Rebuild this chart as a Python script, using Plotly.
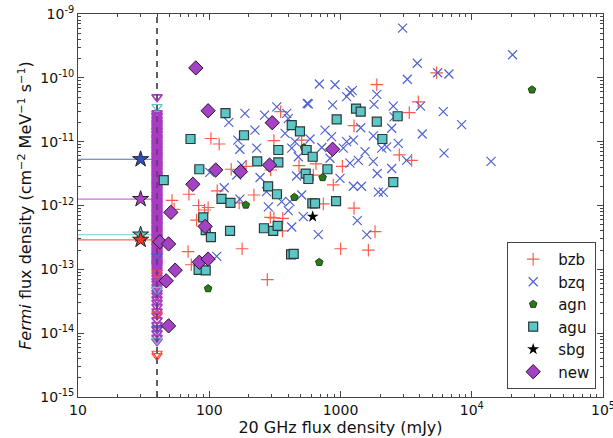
import plotly.graph_objects as go

# ---------------- data (20 GHz flux in mJy, Fermi flux density) ----------------
bzb_x = [350, 103, 119, 311, 506, 147, 191, 483, 294, 115, 70, 219, 169, 52, 83, 98,
         92, 80, 69, 73, 178, 277, 292, 311, 363, 361, 54,
         1890, 3915, 3342, 1268, 2806, 3483, 1033, 881, 650, 621, 740, 1268, 5400,
         1832, 1003, 1630]
bzb_y = [2.95e-11, 1.12e-11, 9.2e-12, 1.04e-11, 1.06e-11, 3.7e-12, 4.1e-12, 4.2e-12, 3.6e-12,
         1.7e-12, 1.5e-12, 1.46e-12, 1.1e-12, 1.2e-12, 1.0e-12, 9.3e-13,
         8.5e-13, 5.9e-13, 1.9e-13, 1.18e-13, 2.1e-13, 6.9e-14, 6.5e-13, 6.4e-13, 6.3e-13, 4.0e-13, 8.7e-13,
         7.8e-11, 4.2e-11, 2.85e-11, 1.78e-11, 6.2e-12, 5.1e-12, 4.1e-12, 2.1e-12, 4.5e-12, 3.0e-12,
         1.06e-12, 9.1e-13, 1.2e-10,
         3.9e-13, 2.1e-13, 2.0e-13]

bzq_x = [327, 558, 187, 141, 264, 389, 400, 223, 378, 165, 171, 230, 450, 425, 477, 586,
         177, 162, 101, 244, 463, 130, 273, 171, 356, 412, 282,
         114, 400, 521, 425,
         3846, 3228, 5500, 6700, 689, 908, 1890, 1180, 1114, 1230, 569, 871, 1800, 2524, 4074,
         6065, 2559, 1425, 2455, 4195, 762, 855, 1778, 1253, 1114, 2754, 2060, 2250, 720, 1050,
         1538, 1368, 1180, 832, 1778, 3190, 6150, 2455, 1905, 991, 1253, 1445, 1942, 2118, 506,
         1343, 677, 1585,
         20460, 8375, 14030, 2972]
bzq_y = [3.5e-11, 3.96e-11, 2.78e-11, 2.0e-11, 2.6e-11, 2.78e-11, 2.3e-11, 1.52e-11, 1.35e-11,
         1.06e-11, 7.6e-12, 7.9e-12, 1.0e-11, 7.9e-12, 5.8e-12, 1.1e-11,
         4.3e-12, 3.0e-12, 3.3e-12, 2.75e-12, 2.9e-12, 1.9e-12, 1.65e-12, 1.26e-12, 1.15e-12,
         1.15e-12, 9.5e-13,
         1.6e-13, 8.3e-13, 6.7e-13, 4.6e-13,
         1.69e-10, 9.5e-11, 1.2e-10, 1.15e-10, 8.0e-11, 7.8e-11, 5.5e-11, 5.9e-11, 5.07e-11, 6.3e-11,
         3.9e-11, 3.76e-11, 3.84e-11, 3.6e-11, 3.6e-11,
         2.95e-11, 2.45e-11, 1.65e-11, 1.62e-11, 1.32e-11, 1.52e-11, 1.2e-11, 1.23e-11, 1.06e-11,
         1.0e-11, 9.4e-12, 7.9e-12, 8.3e-12, 8.1e-12, 7.9e-12,
         7.0e-12, 5.1e-12, 4.6e-12, 5.5e-12, 4.9e-12, 5.1e-12, 6.6e-12, 3.8e-12, 3.17e-12, 2.66e-12,
         2.0e-12, 2.0e-12, 1.62e-12, 1.62e-12, 1.46e-12,
         5.8e-13, 3.5e-13, 3.5e-13,
         2.3e-10, 1.85e-11, 4.9e-12, 6.0e-10]

agn_x = [190, 445, 527, 731, 98, 689, 28770]
agn_y = [1.02e-12, 1.35e-12, 8.1e-12, 2.75e-12, 5.0e-14, 1.29e-13, 6.5e-11]

agu_x = [133, 72, 84, 45, 184, 336, 232, 336, 425, 491, 552, 543, 281, 328, 124, 145,
         90, 94, 103, 144, 261, 307, 332, 420, 440, 83, 94,
         1313, 1425, 935, 1890, 2725, 2084, 614, 795, 569, 2524, 610, 640, 925]
agu_y = [2.8e-11, 1.1e-11, 3.7e-12, 2.5e-12, 1.26e-11, 7.4e-12, 4.9e-12, 4.75e-12, 1.82e-11,
         1.45e-11, 7.4e-12, 3.16e-12, 2.0e-12, 1.5e-12, 1.27e-12, 1.1e-12,
         6.5e-13, 4.1e-13, 3.2e-13, 4.0e-13, 4.4e-13, 4.0e-13, 4.8e-13, 1.72e-13, 1.75e-13,
         9.8e-14, 9.6e-14,
         3.3e-11, 2.95e-11, 2.24e-11, 2.06e-11, 2.5e-11, 1.1e-11, 5.8e-12, 3.7e-12, 2.6e-12,
         2.33e-12, 1.08e-12, 1.08e-12, 1.17e-12]

sbg_x = [614]
sbg_y = [6.7e-13]

new_x = [79, 98, 112, 75, 173, 302, 288, 51, 93, 42, 49, 84, 98, 55, 47, 49, 871]
new_y = [1.43e-10, 3.05e-11, 3.6e-12, 2.15e-12, 3.4e-12, 1.98e-11, 4.3e-12, 7.8e-13, 4.7e-13,
         2.7e-13, 2.5e-13, 1.29e-13, 1.45e-13, 9.7e-14, 6.6e-14, 1.3e-14, 7.6e-12]

# sources below the 20 GHz limit (upper limits at the survey threshold)
limit_flux = 40
ul_new_y = [5.0e-11, 2.8e-11, 2.6e-11, 2.5e-11, 2.3e-11, 2.15e-11, 2.0e-11, 1.9e-11, 1.8e-11,
            1.7e-11, 1.6e-11, 1.5e-11, 1.45e-11, 1.35e-11, 1.3e-11, 1.2e-11,
            1.15e-11, 1.1e-11, 1.05e-11, 9.8e-12, 9.4e-12, 8.9e-12, 8.5e-12, 8.0e-12, 7.6e-12,
            7.2e-12, 6.8e-12, 6.4e-12, 6.1e-12, 5.8e-12, 5.5e-12, 5.2e-12, 4.9e-12,
            4.6e-12, 4.4e-12, 4.2e-12, 4.0e-12, 3.8e-12, 3.6e-12, 3.4e-12, 3.2e-12, 3.05e-12,
            2.9e-12, 2.75e-12, 2.6e-12, 2.45e-12, 2.3e-12, 2.2e-12, 2.1e-12, 2.0e-12, 1.9e-12,
            1.8e-12, 1.7e-12, 1.6e-12, 1.5e-12, 1.42e-12, 1.35e-12, 1.28e-12, 1.2e-12, 1.15e-12,
            1.1e-12, 1.04e-12, 9.8e-13, 9.3e-13, 8.8e-13, 8.3e-13, 7.9e-13, 7.5e-13, 7.1e-13,
            6.7e-13, 6.4e-13, 6.0e-13, 5.7e-13, 5.4e-13, 5.1e-13, 4.85e-13, 4.6e-13, 4.35e-13,
            4.1e-13, 3.9e-13, 3.7e-13, 3.5e-13, 3.3e-13, 3.15e-13, 3.0e-13, 2.85e-13, 2.7e-13,
            2.55e-13, 2.4e-13, 2.3e-13, 2.2e-13, 2.05e-13, 1.95e-13, 1.85e-13, 1.75e-13, 1.68e-13,
            1.6e-13, 1.5e-13, 1.4e-13, 1.32e-13, 1.25e-13, 1.2e-13, 1.15e-13, 1.08e-13, 1.0e-13,
            9.2e-14, 8.2e-14, 7.4e-14, 6.6e-14, 6.0e-14, 5.3e-14, 4.8e-14, 4.3e-14, 3.9e-14,
            3.4e-14, 3.0e-14, 2.6e-14, 2.2e-14, 1.9e-14, 1.6e-14, 1.35e-14, 1.15e-14, 1.0e-14,
            8.5e-15, 7.5e-15]
ul_bzb_y = [2.7e-13, 8.7e-14, 2.0e-14, 4.8e-15, 4.4e-15]
ul_agu_y = [3.5e-11, 4.8e-14, 7.8e-15]
ul_bzq_y = [1.2e-14, 1.6e-13]

# stacked (averaged) fluxes of the undetected sources
stack_x = 30
stack_y = [5.3e-12, 1.26e-12, 3.5e-13, 2.9e-13]
stack_colors = ["#3050b8", "#b040c8", "#5cc6c6", "#e83a20"]
stack_line_colors = ["#5070c8", "#c870d8", "#90d8d8", "#ff6a50"]

x_tickvals = [10, 100, 1000, 1e4, 1e5]
x_ticktext = ["10", "100", "1000", "10<sup>4</sup>", "10<sup>5</sup>"]
y_tickvals = [1e-15, 1e-14, 1e-13, 1e-12, 1e-11, 1e-10, 1e-9]
y_ticktext = ["10<sup>-15</sup>", "10<sup>-14</sup>", "10<sup>-13</sup>", "10<sup>-12</sup>",
              "10<sup>-11</sup>", "10<sup>-10</sup>", "10<sup>-9</sup>"]

X_RANGE = [10, 1e5]
Y_RANGE = [1e-15, 1e-9]

# ---------------- figure ----------------
fig = go.Figure()

# horizontal lines to the stacked points
for yv, lc in zip(stack_y, stack_line_colors):
    fig.add_trace(go.Scatter(x=[X_RANGE[0], limit_flux], y=[yv, yv], mode="lines",
                             line=dict(color=lc, width=1.2), showlegend=False, hoverinfo="skip"))

# dashed threshold line
fig.add_trace(go.Scatter(x=[limit_flux, limit_flux], y=Y_RANGE, mode="lines",
                         line=dict(color="#555555", width=1.5, dash="6px,5px"),
                         showlegend=False, hoverinfo="skip"))

def ul_trace(ys, color, lw=1.2):
    return go.Scatter(x=[limit_flux] * len(ys), y=ys, mode="markers", showlegend=False,
                      marker=dict(symbol="triangle-down-open", size=9, color=color,
                                  line=dict(width=lw, color=color)), hoverinfo="skip")

fig.add_trace(ul_trace(ul_new_y, "#a83cc0", 1.8))
fig.add_trace(ul_trace(ul_bzb_y, "#ff4a3a"))
fig.add_trace(ul_trace(ul_agu_y, "#5cc6c6"))
fig.add_trace(ul_trace(ul_bzq_y, "#4a5cc8"))

# re-draw the dashed line faintly over the band
fig.add_trace(go.Scatter(x=[limit_flux, limit_flux], y=Y_RANGE, mode="lines",
                         line=dict(color="rgba(60,40,70,0.55)", width=1.5, dash="6px,5px"),
                         showlegend=False, hoverinfo="skip"))

# stacked stars
fig.add_trace(go.Scatter(x=[stack_x] * len(stack_y), y=stack_y, mode="markers", showlegend=False,
                         marker=dict(symbol="star", size=12, color=stack_colors,
                                     line=dict(width=1, color="#222222"))))

fig.add_trace(go.Scatter(x=bzb_x, y=bzb_y, mode="markers", name="bzb",
                         marker=dict(symbol="cross-thin", size=9, color="#ff5a4a",
                                     line=dict(width=1.2, color="#ff5a4a"))))
fig.add_trace(go.Scatter(x=bzq_x, y=bzq_y, mode="markers", name="bzq",
                         marker=dict(symbol="x-thin", size=9, color="#4f62d0",
                                     line=dict(width=1.2, color="#4f62d0"))))
fig.add_trace(go.Scatter(x=agn_x, y=agn_y, mode="markers", name="agn",
                         marker=dict(symbol="pentagon", size=8, color="#2a7a1c",
                                     line=dict(width=0.8, color="#102a08"))))
fig.add_trace(go.Scatter(x=agu_x, y=agu_y, mode="markers", name="agu",
                         marker=dict(symbol="square", size=9, color="#5ec6c6",
                                     line=dict(width=1.2, color="#2a3a3a"))))
fig.add_trace(go.Scatter(x=sbg_x, y=sbg_y, mode="markers", name="sbg",
                         marker=dict(symbol="star", size=9, color="#000000",
                                     line=dict(width=0, color="#000000"))))
fig.add_trace(go.Scatter(x=new_x, y=new_y, mode="markers", name="new",
                         marker=dict(symbol="diamond", size=11, color="#a442c4",
                                     line=dict(width=1, color="#2a1030"))))

axis_common = dict(
    showline=True, linecolor="#444444", linewidth=1, mirror="allticks",
    ticks="inside", ticklen=6, tickcolor="#444444", showgrid=False, zeroline=False,
    automargin=False,
    tickfont=dict(family="DejaVu Sans", size=14, color="#111111"),
    minor=dict(ticks="inside", ticklen=3, tickcolor="#444444", showgrid=False, dtick="D1"),
)

fig.update_xaxes(type="log", range=[1, 5], tickvals=x_tickvals, ticktext=x_ticktext,
                 ticklabeloverflow="allow",
                 title=dict(text="20 GHz flux density (mJy)", standoff=0,
                            font=dict(family="DejaVu Sans", size=16, color="#111111")),
                 **axis_common)
fig.update_yaxes(type="log", range=[-15, -9], tickvals=y_tickvals, ticktext=y_ticktext,
                 title=dict(text="<i>Fermi</i> flux density (cm<sup>−2</sup> MeV<sup>−1</sup> s<sup>−1</sup>)",
                            standoff=4, font=dict(family="DejaVu Sans", size=16, color="#111111")),
                 **axis_common)

fig.update_layout(
    width=613, height=438,
    margin=dict(l=78, r=10, t=14, b=41),
    plot_bgcolor="white", paper_bgcolor="white",
    font=dict(family="DejaVu Sans", size=14, color="#111111"),
    legend=dict(x=0.987, y=0.021, xanchor="right", yanchor="bottom",
                bgcolor="white", bordercolor="#444444", borderwidth=1,
                font=dict(family="DejaVu Sans", size=15, color="#111111"),
                itemwidth=40, tracegroupgap=0),
)

fig.write_html("out.html")
